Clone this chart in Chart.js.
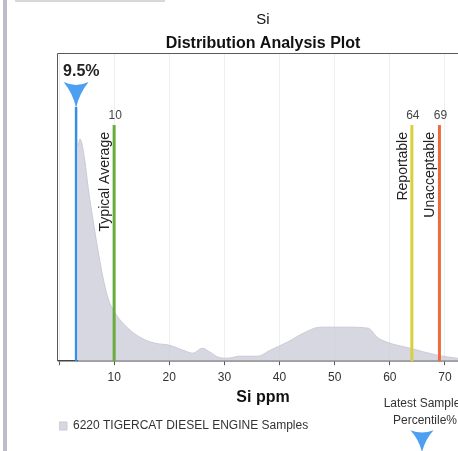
<!DOCTYPE html>
<html>
<head>
<meta charset="utf-8">
<script src="https://cdn.jsdelivr.net/npm/chart.js@4.4.1/dist/chart.umd.min.js"></script>
<style>
    html, body { margin: 0; padding: 0; background: #fff; overflow: hidden; }
    #wrap { position: relative; width: 458px; height: 451px; overflow: hidden; }
    #chart { position: absolute; left: 0; top: 0; }
    .scanBar { position: absolute; left: 3px; top: 0; width: 4px; height: 451px; background: #bdbdca; }
    .scanTop { position: absolute; left: 15px; top: 0; width: 150px; height: 2px; background: #d8d8dc; }
</style>
</head>
<body>
<div id="wrap">
    <canvas id="chart" width="480" height="451"></canvas>
    <div class="scanBar"></div>
    <div class="scanTop"></div>
</div>
<script>
// Si ppm values and the relative sample density
const siValues = [3.45, 3.8, 4.7, 5.3, 6.5, 7.75, 8.9, 10.2, 12.5, 15, 17.4, 20, 22.5, 24.3, 26, 27.4, 28.9, 30.5,
    32.8, 36, 38.3, 41.4, 44.3, 47.4, 52, 56.1, 57.7, 59.5, 63.7, 68.6, 72.2, 74];
const density = [215, 222, 200, 173, 130, 90, 63, 48, 33, 23, 18, 16, 11, 8, 13, 9, 4, 3,
    5, 5, 11, 19, 28, 34, 34, 33, 24, 19, 13, 6, 3, 2];

const sampleLabel = '6220 TIGERCAT DIESEL ENGINE Samples';

// marker lines: value, label above, rotated label, colour
const limitValues = [10, 64, 69];
const limitNames = ['Typical Average', 'Reportable', 'Unacceptable'];
const limitColors = ['#6aab3e', '#d8d03c', '#ee6a3e'];

const latestSample = 3.1;
const latestPercentile = '9.5%';

const font = '"Liberation Sans", Arial, sans-serif';

function arrowPath(ctx, cx, top, w, h) {
    // downward marker with a dipped top edge and curved sides
    ctx.beginPath();
    ctx.moveTo(cx - w / 2, top);
    ctx.quadraticCurveTo(cx, top + h * 0.22, cx + w / 2, top);
    ctx.quadraticCurveTo(cx + w * 0.12, top + h * 0.45, cx, top + h);
    ctx.quadraticCurveTo(cx - w * 0.12, top + h * 0.45, cx - w / 2, top);
    ctx.closePath();
}

const markers = {
    id: 'markers',
    beforeDatasetsDraw(chart) {
        const {ctx, chartArea} = chart;
        ctx.save();
        ctx.strokeStyle = '#5a5a5a';
        ctx.lineWidth = 1;
        ctx.beginPath();
        ctx.moveTo(chartArea.left - 1.5, chartArea.bottom);
        ctx.lineTo(chartArea.left - 1.5, chartArea.top + 0.5);
        ctx.lineTo(chartArea.right + 20, chartArea.top + 0.5);
        ctx.stroke();
        ctx.restore();
    },
    afterDatasetsDraw(chart) {
        const {ctx, chartArea, scales} = chart;
        const x = scales.x, y = scales.y;
        ctx.save();

        limitValues.forEach((v, i) => {
            const px = x.getPixelForValue(v);
            ctx.strokeStyle = limitColors[i];
            ctx.lineWidth = 3;
            ctx.beginPath();
            ctx.moveTo(px, y.getPixelForValue(0));
            ctx.lineTo(px, y.getPixelForValue(236));
            ctx.stroke();

            ctx.fillStyle = '#444';
            ctx.font = '12px ' + font;
            ctx.textAlign = 'center';
            ctx.textBaseline = 'middle';
            ctx.fillText(String(v), px + 1, y.getPixelForValue(245));

            ctx.save();
            ctx.translate(px - 5, y.getPixelForValue(229));
            ctx.rotate(-Math.PI / 2);
            ctx.fillStyle = '#222';
            ctx.font = '14px ' + font;
            ctx.textAlign = 'right';
            ctx.textBaseline = 'alphabetic';
            ctx.fillText(limitNames[i], 0, 0);
            ctx.restore();
        });

        // latest sample line and marker
        const lx = x.getPixelForValue(latestSample);
        ctx.strokeStyle = '#3a8ee0';
        ctx.lineWidth = 2.5;
        ctx.beginPath();
        ctx.moveTo(lx, y.getPixelForValue(0));
        ctx.lineTo(lx, y.getPixelForValue(254));
        ctx.stroke();

        ctx.fillStyle = '#4d9ff2';
        arrowPath(ctx, lx, y.getPixelForValue(279), 25, 26);
        ctx.fill();

        ctx.fillStyle = '#222';
        ctx.font = 'bold 16px ' + font;
        ctx.textAlign = 'left';
        ctx.textBaseline = 'alphabetic';
        ctx.fillText(latestPercentile, lx - 13, y.getPixelForValue(285));

        // legend note for the marker, bottom right
        const nx = chartArea.right - 45;
        ctx.fillStyle = '#333';
        ctx.font = '12px ' + font;
        ctx.textAlign = 'center';
        ctx.textBaseline = 'middle';
        ctx.fillText('Latest Sample', nx, chartArea.bottom + 42);
        ctx.fillText('Percentile%', nx + 3, chartArea.bottom + 59);
        ctx.fillStyle = '#4d9ff2';
        arrowPath(ctx, nx, chartArea.bottom + 69, 23, 22);
        ctx.fill();

        ctx.restore();
    }
};

const ctx = document.getElementById('chart');
new Chart(ctx, {
    type: 'line',
    data: {
        datasets: [{
            label: sampleLabel,
            data: siValues.map((v, i) => ({x: v, y: density[i]})),
            fill: 'origin',
            backgroundColor: 'rgba(200, 200, 214, 0.72)',
            borderColor: 'rgba(200, 200, 214, 0.9)',
            borderWidth: 1,
            pointRadius: 0,
            cubicInterpolationMode: 'monotone'
        }]
    },
    options: {
        responsive: false,
        animation: false,
        layout: {
            padding: {left: 59, right: 13, top: 0, bottom: 9}
        },
        scales: {
            x: {
                type: 'linear',
                min: 0,
                max: 74,
                grid: {
                    color: '#efefef',
                    tickColor: '#555',
                    tickLength: 4
                },
                border: {
                    color: '#444',
                    width: 1.5
                },
                ticks: {
                    stepSize: 10,
                    includeBounds: false,
                    autoSkip: false,
                    maxRotation: 0,
                    padding: 5,
                    color: '#333',
                    font: {family: font, size: 12},
                    callback: (v) => v === 0 ? '' : v
                },
                title: {
                    display: true,
                    text: 'Si ppm',
                    color: '#111',
                    font: {family: font, size: 16, weight: 'bold', lineHeight: 1},
                    padding: {top: 0, bottom: 14.4}
                }
            },
            y: {
                display: false,
                min: 0,
                max: 308
            }
        },
        plugins: {
            title: {
                display: true,
                text: 'Si',
                color: '#111',
                font: {family: font, size: 15, weight: 'normal'},
                padding: {top: 11, bottom: 0}
            },
            subtitle: {
                display: true,
                text: 'Distribution Analysis Plot',
                color: '#111',
                font: {family: font, size: 16, weight: 'bold'},
                padding: {top: 4.8, bottom: 0}
            },
            legend: {
                position: 'bottom',
                align: 'start',
                labels: {
                    padding: 0,
                    boxWidth: 8,
                    boxHeight: 8,
                    color: '#333',
                    font: {family: font, size: 12}
                }
            },
            tooltip: {enabled: false}
        }
    },
    plugins: [markers]
});
</script>
</body>
</html>
